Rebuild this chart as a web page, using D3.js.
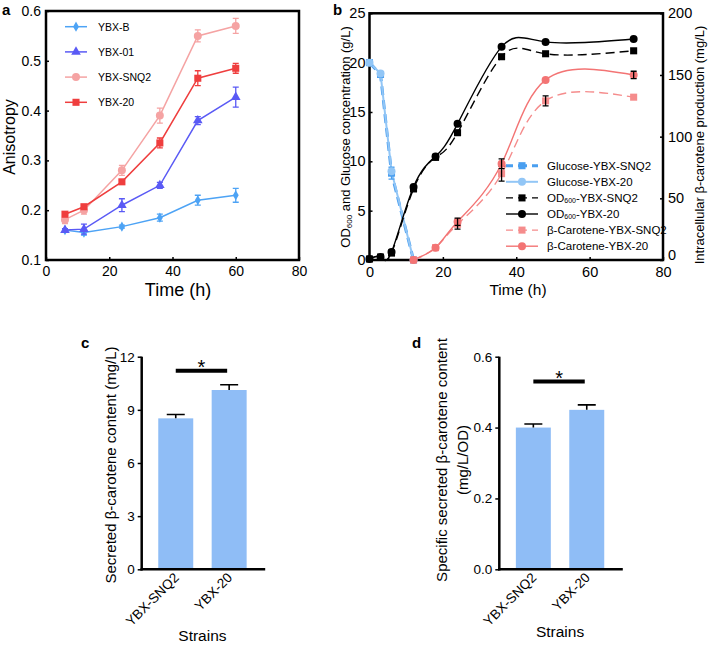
<!DOCTYPE html>
<html><head><meta charset="utf-8">
<script src="https://cdn.jsdelivr.net/npm/d3@7"></script>
<style>body{margin:0;background:#fff}svg{display:block}text{font-family:Arial,"Liberation Sans",sans-serif}</style>
</head><body>
<script>
// ---------- Panel a data ----------
const timeA = [6, 12, 24, 36, 48, 60];
const seriesNamesA = ["YBX-B", "YBX-01", "YBX-SNQ2", "YBX-20"];
const valsYBXB = [0.160, 0.155, 0.167, 0.185, 0.220, 0.230];
const errYBXB = [0.003, 0.005, 0.003, 0.007, 0.010, 0.014];
const valsYBX01 = [0.160, 0.162, 0.210, 0.250, 0.380, 0.427];
const errYBX01 = [0.003, 0.010, 0.013, 0.006, 0.008, 0.020];
const valsSNQ2A = [0.181, 0.200, 0.280, 0.390, 0.550, 0.570];
const errSNQ2A = [0.008, 0.008, 0.010, 0.015, 0.012, 0.015];
const vals20A = [0.192, 0.207, 0.257, 0.335, 0.465, 0.485];
const err20A = [0.005, 0.004, 0.004, 0.010, 0.015, 0.010];
const ticksAx = [0, 20, 40, 60, 80];
const ticksAy = [0.1, 0.2, 0.3, 0.4, 0.5, 0.6];

// ---------- Panel b data ----------
const timeGlc = [0, 3, 6, 12];
const glcSNQ2 = [20, 18.8, 8.8, 0];
const glcSNQ2Err = [0.2, 0.4, 0.6, 0.1];
const glc20 = [20, 18.9, 9.0, 0];
const glc20Err = [0.2, 0.3, 0.5, 0.1];
const timeOD = [0, 3, 6, 12, 18, 24, 36, 48, 72];
const odSNQ2 = [0.1, 0.3, 0.7, 7.2, 10.4, 12.9, 20.6, 20.9, 21.2];
const odSNQ2Err = [0.1, 0.1, 0.1, 0.2, 0.2, 0.3, 0.3, 0.5, 0.3];
const od20 = [0.1, 0.3, 0.8, 7.4, 10.5, 13.8, 21.6, 22.1, 22.4];
const od20Err = [0.1, 0.1, 0.1, 0.2, 0.2, 0.3, 0.3, 0.2, 0.2];
const timeCar = [12, 18, 24, 36, 48, 72];
const carSNQ2 = [0, 10, 29, 70, 129, 132];
const carSNQ2Err = [0.5, 1, 4, 6, 4, 2];
const car20 = [0, 10, 31, 78, 146, 150];
const car20Err = [0.5, 1, 3, 4, 2, 3];
const ticksBx = [0, 20, 40, 60, 80];
const ticksBl = [0, 5, 10, 15, 20, 25];
const ticksBr = [0, 50, 100, 150, 200];

// ---------- Panels c, d data ----------
const strains = ["YBX-SNQ2", "YBX-20"];
const secreted = [8.52, 10.12];
const secretedErr = [0.22, 0.30];
const specific = [0.40, 0.45];
const specificErr = [0.010, 0.014];
const ticksC = [0, 3, 6, 9, 12];
const ticksD = [0, 0.2, 0.4, 0.6];
const sigC = 11.2, sigD = 0.53;

const svg = d3.select("body").append("svg").attr("width", 709).attr("height", 646);

function sym(type, size) { return d3.symbol().type(type).size(size)(); }
function styleAxis(g, fs) {
  g.select(".domain").remove();
  g.selectAll(".tick line").attr("stroke", "#000").attr("stroke-width", 1.5);
  g.selectAll(".tick text").attr("fill", "#000").style("font-size", fs + "px").style("font-family", "Arial, 'Liberation Sans', sans-serif");
}

// =================== Panel a ===================
(function () {
  const x = d3.scaleLinear().domain([0, 80]).range([46, 299]);
  const y = d3.scaleLinear().domain([0.1, 0.6]).range([260, 11]);
  const g = svg.append("g");
  const ga = g.append("g").attr("transform", "translate(0,260)")
    .call(d3.axisBottom(x).tickValues(ticksAx).tickSize(-3).tickPadding(6));
  styleAxis(ga, 14);
  const gy = g.append("g").attr("transform", "translate(46,0)")
    .call(d3.axisLeft(y).tickValues(ticksAy).tickFormat(d3.format(".1f")).tickSize(-3).tickPadding(5));
  styleAxis(gy, 14);
  g.append("rect").attr("x", 46).attr("y", 11).attr("width", 253).attr("height", 249)
    .attr("fill", "none").attr("stroke", "#000").attr("stroke-width", 2.5);

  const series = [
    { name: seriesNamesA[0], v: valsYBXB, e: errYBXB, c: "#4da3f5", s: d3.symbolDiamond, sz: 30 },
    { name: seriesNamesA[1], v: valsYBX01, e: errYBX01, c: "#5a5af5", s: d3.symbolTriangle, sz: 40 },
    { name: seriesNamesA[2], v: valsSNQ2A, e: errSNQ2A, c: "#f5a3a3", s: d3.symbolCircle, sz: 50 },
    { name: seriesNamesA[3], v: vals20A, e: err20A, c: "#ef3e3e", s: d3.symbolSquare, sz: 50 }
  ];
  const line = d3.line().x((d, i) => x(timeA[i])).y(d => y(d));
  series.forEach(s => {
    g.append("path").attr("d", line(s.v)).attr("fill", "none").attr("stroke", s.c).attr("stroke-width", 1.5);
    s.v.forEach((v, i) => {
      const cx = x(timeA[i]);
      g.append("path").attr("d", `M${cx},${y(v - s.e[i])}V${y(v + s.e[i])}M${cx - 3},${y(v - s.e[i])}h6M${cx - 3},${y(v + s.e[i])}h6`)
        .attr("stroke", s.c).attr("stroke-width", 1.3).attr("fill", "none");
      g.append("path").attr("d", sym(s.s, s.sz)).attr("transform", `translate(${cx},${y(v)})`).attr("fill", s.c);
    });
  });
  // legend
  series.forEach((s, i) => {
    const ly = 26.7 + i * 25.2;
    g.append("line").attr("x1", 65).attr("x2", 87).attr("y1", ly).attr("y2", ly).attr("stroke", s.c).attr("stroke-width", 1.5);
    g.append("path").attr("d", sym(s.s, s.sz)).attr("transform", `translate(76,${ly})`).attr("fill", s.c);
    g.append("text").attr("x", 98).attr("y", ly + 4).style("font-size", "10.5px").text(s.name);
  });
  g.append("text").attr("transform", "translate(15,137) rotate(-90)").attr("text-anchor", "middle").style("font-size", "16px").text("Anisotropy");
  g.append("text").attr("x", 178).attr("y", 296).attr("text-anchor", "middle").style("font-size", "18px").text("Time (h)");
  g.append("text").attr("x", 2).attr("y", 15).style("font-size", "15px").style("font-weight", "bold").text("a");
})();

// =================== Panel b ===================
(function () {
  const x = d3.scaleLinear().domain([0, 80]).range([369.5, 663]);
  const yl = d3.scaleLinear().domain([0, 25]).range([260, 13.3]);
  const yr = d3.scaleLinear().domain([0, 200]).range([260, 13.3]);
  const g = svg.append("g");
  const gx = g.append("g").attr("transform", "translate(0,260)")
    .call(d3.axisBottom(x).tickValues(ticksBx).tickSize(-3).tickPadding(7));
  styleAxis(gx, 14.5);
  const gl = g.append("g").attr("transform", "translate(369.5,0)")
    .call(d3.axisLeft(yl).tickValues(ticksBl).tickSize(-3).tickPadding(4));
  styleAxis(gl, 14.5);
  const gr = g.append("g").attr("transform", "translate(663,0)")
    .call(d3.axisRight(yr).tickValues(ticksBr).tickSize(-3).tickPadding(5));
  styleAxis(gr, 14.5);
  gr.selectAll(".tick text").filter(d => d === 0).attr("dy", "-0.02em");
  g.append("rect").attr("x", 369.5).attr("y", 13.3).attr("width", 293.5).attr("height", 246.7)
    .attr("fill", "none").attr("stroke", "#000").attr("stroke-width", 2.5);

  const series = [
    { name: "Glucose-YBX-SNQ2", t: timeGlc, v: glcSNQ2, e: glcSNQ2Err, y: yl, c: "#4a9ff0", dash: "9,5", s: d3.symbolSquare, w: 3, curve: d3.curveLinear, ec: "#4a9ff0" },
    { name: "Glucose-YBX-20", t: timeGlc, v: glc20, e: glc20Err, y: yl, c: "#92c6f6", dash: null, s: d3.symbolCircle, w: 2, curve: d3.curveLinear, ec: "#92c6f6" },
    { name: "OD600-YBX-SNQ2", t: timeOD, v: odSNQ2, e: odSNQ2Err, y: yl, c: "#000", dash: "9,5", s: d3.symbolSquare, w: 1.4, curve: d3.curveNatural, ec: "#000" },
    { name: "OD600-YBX-20", t: timeOD, v: od20, e: od20Err, y: yl, c: "#000", dash: null, s: d3.symbolCircle, w: 1.4, curve: d3.curveNatural, ec: "#000" },
    { name: "β-Carotene-YBX-SNQ2", t: timeCar, v: carSNQ2, e: carSNQ2Err, y: yr, c: "#f58c8c", dash: "9,5", s: d3.symbolSquare, w: 1.4, curve: d3.curveNatural, ec: "#000" },
    { name: "β-Carotene-YBX-20", t: timeCar, v: car20, e: car20Err, y: yr, c: "#f37474", dash: null, s: d3.symbolCircle, w: 1.4, curve: d3.curveNatural, ec: "#000" }
  ];
  series.forEach(s => {
    const line = d3.line().curve(s.curve).x((d, i) => x(s.t[i])).y(d => s.y(d));
    g.append("path").attr("d", line(s.v)).attr("fill", "none").attr("stroke", s.c).attr("stroke-width", s.w)
      .attr("stroke-dasharray", s.dash);
  });
  series.forEach(s => {
    s.v.forEach((v, i) => {
      const cx = x(s.t[i]);
      g.append("path").attr("d", sym(s.s, 50)).attr("transform", `translate(${cx},${s.y(v)})`).attr("fill", s.c);
      if (s.e[i] > 0.5 * (s.y === yl ? 1 : 4)) {
        const y1 = s.y(v - s.e[i]), y2 = s.y(v + s.e[i]);
        g.append("path").attr("d", `M${cx},${y1}V${y2}M${cx - 3},${y1}h6M${cx - 3},${y2}h6`)
          .attr("stroke", s.ec).attr("stroke-width", 1.3).attr("fill", "none");
      }
    });
  });
  // legend
  series.forEach((s, i) => {
    const ly = 165.7 + i * 16.1;
    g.append("line").attr("x1", 506).attr("x2", 538).attr("y1", ly).attr("y2", ly).attr("stroke", s.c)
      .attr("stroke-width", s.w).attr("stroke-dasharray", s.dash ? "9,5" : null).attr("stroke-dashoffset", s.dash ? 2 : null);
    g.append("path").attr("d", sym(s.s, 50)).attr("transform", `translate(522,${ly})`).attr("fill", s.c);
    const t = g.append("text").attr("x", 547).attr("y", ly + 4).style("font-size", "11.5px");
    if (s.name.startsWith("OD600")) {
      t.append("tspan").text("OD");
      t.append("tspan").style("font-size", "7px").attr("dy", 1).text("600");
      t.append("tspan").attr("dy", -1).text(s.name.slice(5));
    } else t.text(s.name);
  });
  const lt = g.append("text").attr("transform", "translate(350,137) rotate(-90)").attr("text-anchor", "middle").style("font-size", "13px");
  lt.append("tspan").text("OD");
  lt.append("tspan").style("font-size", "8px").attr("dy", 2).text("600");
  lt.append("tspan").attr("dy", -2).text(" and Glucose concentration (g/L)");
  g.append("text").attr("transform", "translate(704,145) rotate(-90)").attr("text-anchor", "middle").style("font-size", "13px")
    .text("Intracellular β-carotene production (mg/L)");
  g.append("text").attr("x", 518).attr("y", 295).attr("text-anchor", "middle").style("font-size", "15.5px").text("Time (h)");
  g.append("text").attr("x", 333).attr("y", 15).style("font-size", "15px").style("font-weight", "bold").text("b");
})();

// =================== Panels c & d ===================
function barPanel(opts) {
  const g = svg.append("g");
  const x = d3.scaleBand().domain(strains).range([opts.x0, opts.x0 + 121.5]).paddingInner(0.345).paddingOuter(0.31);
  const y = d3.scaleLinear().domain(opts.domain).range([569.3, 356.7]);
  const gy = g.append("g").attr("transform", `translate(${opts.x0},0)`)
    .call(d3.axisLeft(y).tickValues(opts.ticks).tickFormat(opts.fmt).tickSize(4).tickPadding(3));
  styleAxis(gy, 13.5);
  g.selectAll(".bar").data(opts.vals).enter().append("rect")
    .attr("x", (d, i) => x(strains[i])).attr("width", x.bandwidth())
    .attr("y", d => y(d)).attr("height", d => 569.3 - y(d)).attr("fill", "#8fbdf6");
  opts.vals.forEach((v, i) => {
    const cx = x(strains[i]) + x.bandwidth() / 2;
    const yt = y(v + opts.errs[i]);
    g.append("path").attr("d", `M${cx},${y(v)}V${yt}M${cx - 9},${yt}h18`).attr("stroke", "#000").attr("stroke-width", 1.6).attr("fill", "none");
    g.append("text").attr("transform", `translate(${cx + 4},${578.5}) rotate(-45)`).attr("text-anchor", "end")
      .style("font-size", "13.5px").text(strains[i]);
  });
  g.append("line").attr("x1", opts.x0).attr("x2", opts.x0).attr("y1", 356.7).attr("y2", 570.5).attr("stroke", "#000").attr("stroke-width", 2.5);
  g.append("line").attr("x1", opts.x0 - 1.2).attr("x2", opts.x0 + 123.5).attr("y1", 569.3).attr("y2", 569.3).attr("stroke", "#000").attr("stroke-width", 2.5);
  const c1 = x(strains[0]) + x.bandwidth() / 2, c2 = x(strains[1]) + x.bandwidth() / 2;
  g.append("line").attr("x1", c1).attr("x2", c2 - 2).attr("y1", y(opts.sig)).attr("y2", y(opts.sig)).attr("stroke", "#000").attr("stroke-width", 4);
  g.append("text").attr("x", (c1 + c2) / 2 - 1).attr("y", y(opts.sig) + 3).attr("text-anchor", "middle").style("font-size", "20px").text("*");
  const lab = g.append("text").attr("transform", `translate(${opts.labX},${opts.labY}) rotate(-90)`).attr("text-anchor", "middle").style("font-size", "15px");
  opts.label.forEach((l, i) => lab.append("tspan").attr("x", 0).attr("dy", i === 0 ? 0 : 21).text(l));
  g.append("text").attr("x", (c1 + c2) / 2).attr("y", opts.strY).attr("text-anchor", "middle").style("font-size", "15.5px").text("Strains");
  g.append("text").attr("x", opts.px).attr("y", 348).style("font-size", "15px").style("font-weight", "bold").text(opts.panel);
}
barPanel({ x0: 141.7, domain: [0, 12], ticks: ticksC, fmt: d3.format("d"), vals: secreted, errs: secretedErr, sig: sigC,
  label: ["Secreted β-carotene content (mg/L)"], labX: 116, labY: 465, strY: 641, px: 81, panel: "c" });
barPanel({ x0: 499.3, domain: [0, 0.6], ticks: ticksD, fmt: d3.format(".1f"), vals: specific, errs: specificErr, sig: sigD,
  label: ["Specific secreted β-carotene content", "(mg/L/OD)"], labX: 447, labY: 460, strY: 637, px: 412, panel: "d" });
</script>
</body></html>
